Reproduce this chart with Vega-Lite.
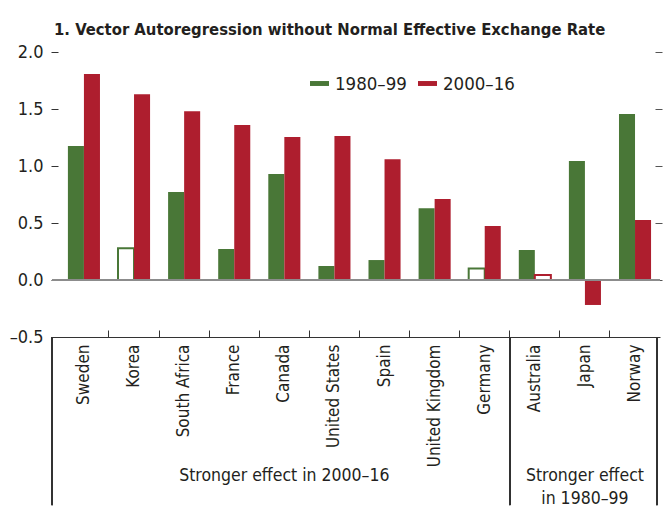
{
  "$schema": "https://vega.github.io/schema/vega-lite/v6.json",
  "width": 608,
  "height": 285,
  "autosize": {"type": "none"},
  "padding": {"left": 52, "top": 52, "right": 3, "bottom": 174},
  "background": "white",
  "config": {
    "view": {"stroke": null},
    "font": "DejaVu Sans Condensed",
    "axis": {"labelFont": "DejaVu Sans Condensed", "labelColor": "#231f20", "grid": false, "title": null}
  },
  "title": {
    "text": "1. Vector Autoregression without Normal Effective Exchange Rate",
    "anchor": "start",
    "frame": "group",
    "dx": 2,
    "font": "DejaVu Sans Condensed",
    "fontWeight": "bold",
    "fontSize": 16.5,
    "color": "#231f20",
    "offset": -8,
    "baseline": "alphabetic"
  },
  "data": {
    "values": [
      {"country": "Sweden", "period": "1980–99", "value": 1.175, "sig": true},
      {"country": "Sweden", "period": "2000–16", "value": 1.807, "sig": true},
      {"country": "Korea", "period": "1980–99", "value": 0.278, "sig": false},
      {"country": "Korea", "period": "2000–16", "value": 1.63, "sig": true},
      {"country": "South Africa", "period": "1980–99", "value": 0.772, "sig": true},
      {"country": "South Africa", "period": "2000–16", "value": 1.48, "sig": true},
      {"country": "France", "period": "1980–99", "value": 0.272, "sig": true},
      {"country": "France", "period": "2000–16", "value": 1.36, "sig": true},
      {"country": "Canada", "period": "1980–99", "value": 0.93, "sig": true},
      {"country": "Canada", "period": "2000–16", "value": 1.254, "sig": true},
      {"country": "United States", "period": "1980–99", "value": 0.123, "sig": true},
      {"country": "United States", "period": "2000–16", "value": 1.263, "sig": true},
      {"country": "Spain", "period": "1980–99", "value": 0.175, "sig": true},
      {"country": "Spain", "period": "2000–16", "value": 1.06, "sig": true},
      {"country": "United Kingdom", "period": "1980–99", "value": 0.63, "sig": true},
      {"country": "United Kingdom", "period": "2000–16", "value": 0.71, "sig": true},
      {"country": "Germany", "period": "1980–99", "value": 0.1, "sig": false},
      {"country": "Germany", "period": "2000–16", "value": 0.474, "sig": true},
      {"country": "Australia", "period": "1980–99", "value": 0.263, "sig": true},
      {"country": "Australia", "period": "2000–16", "value": 0.044, "sig": false},
      {"country": "Japan", "period": "1980–99", "value": 1.044, "sig": true},
      {"country": "Japan", "period": "2000–16", "value": -0.219, "sig": true},
      {"country": "Norway", "period": "1980–99", "value": 1.456, "sig": true},
      {"country": "Norway", "period": "2000–16", "value": 0.526, "sig": true}
    ]
  },
  "resolve": {"axis": {"y": "independent"}},
  "layer": [
    {
      "mark": {"type": "bar"},
      "encoding": {
        "x": {
          "field": "country",
          "type": "nominal",
          "scale": {
            "domain": ["Sweden", "Korea", "South Africa", "France", "Canada", "United States", "Spain", "United Kingdom", "Germany", "Australia", "Japan", "Norway"],
            "paddingInner": 0.36,
            "paddingOuter": 0.248,
            "align": 0.64
          },
          "axis": {
            "orient": "bottom",
            "labelAngle": -90,
            "labelFontSize": 17,
            "labelPadding": 14,
            "domain": true,
            "domainColor": "#333333",
            "domainWidth": 1,
            "ticks": true,
            "tickSize": -7,
            "tickColor": "#333333",
            "bandPosition": -0.281,
            "tickOpacity": {"condition": {"test": "datum.value === 'Sweden'", "value": 0}, "value": 1}
          }
        },
        "xOffset": {"field": "period", "type": "nominal", "sort": ["1980–99", "2000–16"]},
        "y": {
          "field": "value",
          "type": "quantitative",
          "scale": {"domain": [-0.5, 2], "nice": false, "zero": false},
          "axis": {
            "orient": "left",
            "values": [-0.5, 0, 0.5, 1, 1.5, 2],
            "domain": false,
            "ticks": true,
            "tickSize": 7,
            "tickColor": "#333333",
            "offset": -6,
            "labelPadding": 8,
            "labelFontSize": 18,
            "labelExpr": "datum.value < 0 ? '–' + format(-datum.value, '.1f') : format(datum.value, '.1f')"
          }
        },
        "fill": {
          "condition": {"test": "!datum.sig", "value": "white"},
          "field": "period",
          "type": "nominal",
          "scale": {"domain": ["1980–99", "2000–16"], "range": ["#497737", "#ae1e2e"]},
          "legend": {
            "orient": "none",
            "direction": "horizontal",
            "legendX": 258,
            "legendY": 22,
            "title": null,
            "symbolType": "M-1,-0.26H1V0.26H-1Z",
            "symbolSize": 361,
            "symbolStrokeWidth": 0,
            "labelFontSize": 18.5,
            "labelFont": "DejaVu Sans Condensed",
            "labelColor": "#231f20",
            "labelOffset": 6,
            "columnPadding": 11
          }
        },
        "stroke": {
          "field": "period",
          "type": "nominal",
          "scale": {"domain": ["1980–99", "2000–16"], "range": ["#497737", "#ae1e2e"]},
          "legend": null
        },
        "strokeWidth": {"condition": {"test": "!datum.sig", "value": 2}, "value": 0}
      }
    },
    {
      "mark": {"type": "rule", "color": "#8c8c8c", "strokeWidth": 2},
      "encoding": {
        "y": {
          "datum": 0,
          "type": "quantitative",
          "scale": {"domain": [-0.5, 2], "nice": false, "zero": false},
          "axis": {
            "orient": "right",
            "values": [0, 0.5, 1, 1.5, 2],
            "domain": false,
            "labels": false,
            "ticks": true,
            "tickSize": 7,
            "tickColor": "#555555",
            "offset": -5
          }
        }
      }
    },
    {
      "mark": {"type": "rule", "color": "#333333", "strokeWidth": 1},
      "encoding": {
        "x": {"datum": "Sweden", "type": "nominal", "bandPosition": -0.496},
        "y": {"datum": -0.5, "type": "quantitative", "axis": null},
        "y2": {"datum": -1.974}
      }
    },
    {
      "mark": {"type": "rule", "color": "#333333", "strokeWidth": 1},
      "encoding": {
        "x": {"datum": "Australia", "type": "nominal", "bandPosition": -0.281},
        "y": {"datum": -0.5, "type": "quantitative", "axis": null},
        "y2": {"datum": -1.974}
      }
    },
    {
      "mark": {"type": "rule", "color": "#333333", "strokeWidth": 1},
      "encoding": {
        "x": {"datum": "Norway", "type": "nominal", "bandPosition": 1.185},
        "y": {"datum": -0.5, "type": "quantitative", "axis": null},
        "y2": {"datum": -1.974}
      }
    },
    {
      "data": {
        "values": [
          {"country": "Canada", "grp": "Stronger effect in 2000–16"},
          {"country": "Japan", "grp": "Stronger effect\nin 1980–99"}
        ]
      },
      "mark": {"type": "text", "fontSize": 17.5, "baseline": "alphabetic", "align": "center", "lineHeight": 23, "lineBreak": "\n", "color": "#231f20", "font": "DejaVu Sans Condensed"},
      "encoding": {
        "x": {"field": "country", "type": "nominal", "bandPosition": 0.5},
        "y": {"datum": -1.765, "type": "quantitative", "axis": null},
        "text": {"field": "grp"}
      }
    }
  ]
}
